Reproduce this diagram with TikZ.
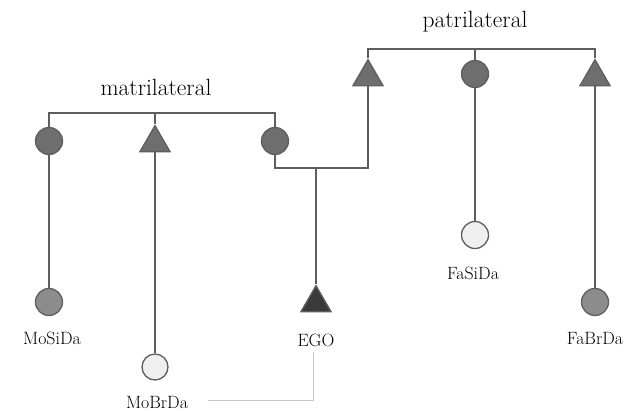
\documentclass[tikz,border=0pt]{standalone}
\usetikzlibrary{shapes.geometric}
\definecolor{lineg}{HTML}{5E5E5E}
\definecolor{darkf}{HTML}{6E6E6E}
\definecolor{midf}{HTML}{8C8C8C}
\definecolor{lightf}{HTML}{EFEFEF}
\definecolor{egof}{HTML}{3A3A3A}
\definecolor{faint}{HTML}{C8C8C8}
\begin{document}
\begin{tikzpicture}[x=1pt,y=-1pt,
  fem/.style={circle,draw=lineg,line width=1.3pt,minimum size=27pt,inner sep=0pt},
  mal/.style={isosceles triangle,isosceles triangle apex angle=60,shape border rotate=90,draw=lineg,line width=1.3pt,minimum height=26pt,inner sep=0pt,anchor=center},
  conn/.style={draw=lineg,line width=1.3pt},
  head/.style={font=\fontsize{23.5}{26}\selectfont},
  lab/.style={font=\fontsize{17.8}{20}\selectfont}]
\useasboundingbox (0,0) rectangle (626,410);
% matrilateral
\node[head] (mlab) at (156,87) {matrilateral};
\node[fem,fill=darkf] (mosi) at (49,141) {};
\node[mal,fill=darkf] (mobr) at (155,143) {};
\node[fem,fill=darkf] (mo) at (275,141) {};
\coordinate (mtop) at (155,113);
\draw[conn] (mosi.north) |- (mo.north|-mtop) -- (mo.north);
\draw[conn] (mtop) -- (mobr.apex);
% patrilateral
\node[head] (plab) at (475,22) {patrilateral};
\node[mal,fill=darkf] (fa) at (368,77) {};
\node[fem,fill=darkf] (fasi) at (475,74) {};
\node[mal,fill=darkf] (fabr) at (595,77) {};
\coordinate (ptop) at (475,49);
\draw[conn] (fa.apex) |- (fabr.apex|-ptop) -- (fabr.apex);
\draw[conn] (ptop) -- (fasi.north);
% marriage link
\coordinate (mj) at (275,168);
\coordinate (egotop) at (316,168);
\draw[conn] (mo.south) -- (mj) -| (fa.south);
% children
\node[mal,fill=egof] (ego) at (316,303) {};
\node[fem,fill=midf] (mosida) at (49,302) {};
\node[fem,fill=lightf,minimum size=26pt] (mobrda) at (155,367) {};
\node[fem,fill=lightf] (fasida) at (475,235) {};
\node[fem,fill=midf] (fabrda) at (595,302) {};
\draw[conn] (egotop) -- (ego.apex);
\draw[conn] (mosi.south) -- (mosida.north);
\draw[conn] (mobr.south) -- (mobrda.north);
\draw[conn] (fasi.south) -- (fasida.north);
\draw[conn] (fabr.south) -- (fabrda.north);
% labels
\node[lab] (egolab) at (316,340) {EGO};
\node[lab] (mosidalab) at (52,338) {MoSiDa};
\node[lab] (mobrdalab) at (157,402) {MoBrDa};
\node[lab] (fasidalab) at (473,273) {FaSiDa};
\node[lab] (fabrdalab) at (595,338) {FaBrDa};
\coordinate (fc) at (313,400);
\draw[faint,line width=0.9pt] (313,352) -- (fc) -- (208,400);
\end{tikzpicture}
\end{document}
